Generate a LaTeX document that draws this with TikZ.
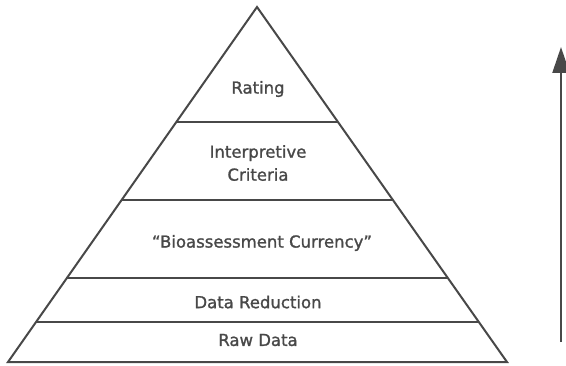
\documentclass[tikz,border=0pt]{standalone}
\usepackage{fontspec}
\setmainfont{DejaVu Sans}
\newfontfamily\heavyfont{DejaVu Sans}[FakeBold=1.3]
\usetikzlibrary{arrows.meta,calc}
\definecolor{ink}{HTML}{484848}
\begin{document}
\begin{tikzpicture}[x=1pt,y=1pt,
  edge/.style={draw=ink,line width=2pt,line join=miter},
  layer/.style={draw=ink,line width=1.6pt},
  lbl/.style={text=ink,font=\heavyfont\fontsize{16.5}{23}\selectfont,align=center,inner sep=0pt}]
\useasboundingbox (0,0) rectangle (566,365);
\coordinate (apex) at (257,358);
\coordinate (bl) at (8,3);
\coordinate (br) at (507,3);
\draw[edge] (bl) -- (apex) -- (br) -- cycle;
\foreach \t/\n in {0.676/a,0.456/b,0.2366/c,0.1127/d}{
  \coordinate (l\n) at ($(bl)!\t!(apex)$);
  \coordinate (r\n) at ($(br)!\t!(apex)$);
  \draw[layer] (l\n) -- (r\n);
}
\node[lbl] (rating) at (258,276) {Rating};
\node[lbl] (interp) at (258,202) {Interpretive\\Criteria};
\node[lbl] (bio) at (262,122) {“Bioassessment Currency”};
\node[lbl] (red) at (258,63) {Data Reduction};
\node[lbl] (raw) at (258,25) {Raw Data};
\coordinate (abot) at (561,23);
\coordinate (atop) at (561,318);
\draw[draw=ink,line width=2.2pt,-{Triangle[length=26pt,width=17pt]}] (abot) -- (atop);
\end{tikzpicture}
\end{document}
